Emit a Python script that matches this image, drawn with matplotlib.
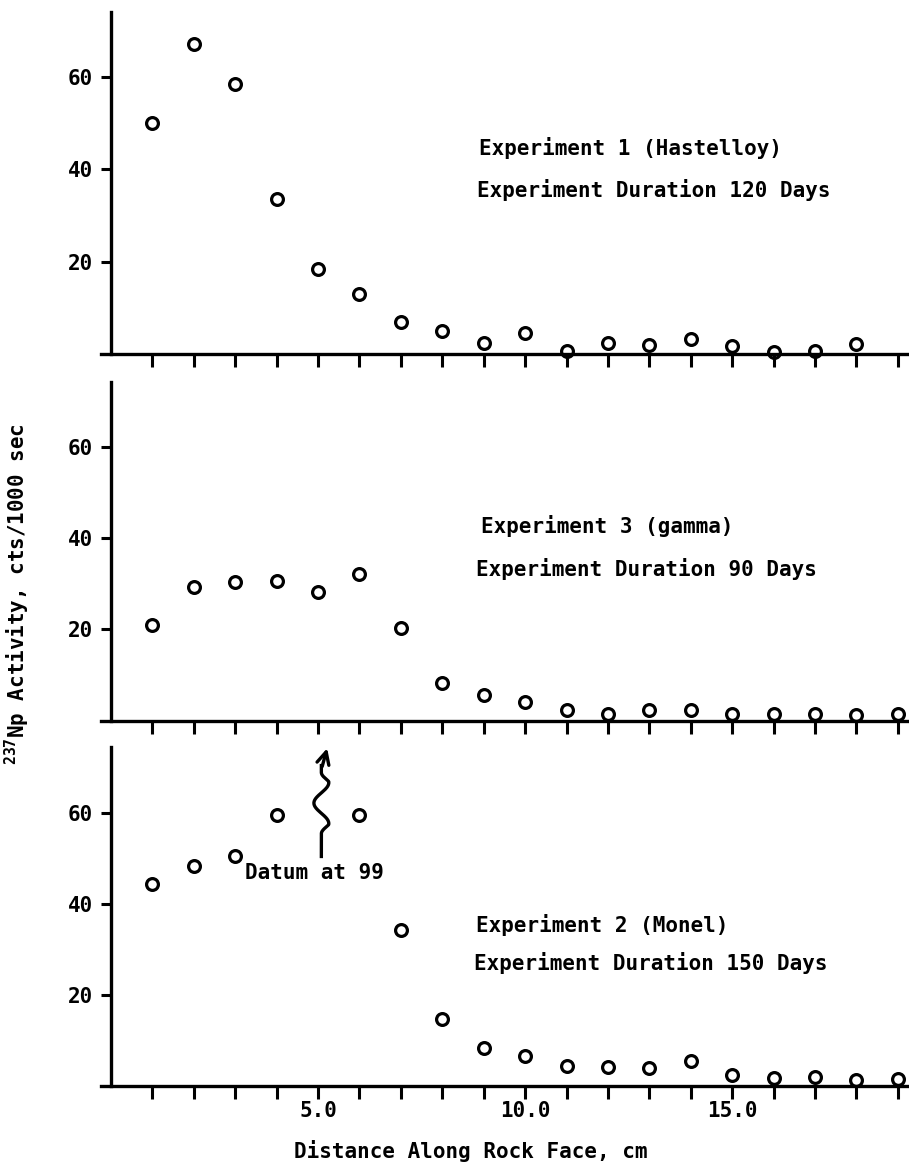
import numpy as np
import matplotlib.pyplot as plt

plt.rcParams['font.family'] = ['DejaVu Sans Mono', 'DejaVu Sans']
plt.rcParams['font.weight'] = 'bold'
plt.rcParams['mathtext.fontset'] = 'custom'
plt.rcParams['mathtext.rm'] = 'DejaVu Sans Mono:bold'
plt.rcParams['mathtext.default'] = 'rm'

# Experiment 1 (Hastelloy), 120 days
dist_exp1 = list(range(1, 19))
act_exp1 = [50, 67, 58.5, 33.5, 18.5, 13, 7, 5, 2.4, 4.7,
            0.8, 2.4, 2, 3.3, 1.8, 0.6, 0.8, 2.2]

# Experiment 3 (gamma), 90 days
dist_exp3 = list(range(1, 20))
act_exp3 = [21, 29.3, 30.3, 30.5, 28.2, 32, 20.3, 8.3, 5.5, 4,
            2.2, 1.5, 2.2, 2.2, 1.5, 1.5, 1.5, 1.2, 1.5]

# Experiment 2 (Monel), 150 days -- x=5 is off scale (datum at 99)
dist_exp2 = [1, 2, 3, 4, 6, 7, 8, 9, 10, 11, 12, 13, 14, 15, 16, 17, 18, 19]
act_exp2 = [44.5, 48.5, 50.6, 59.6, 59.6, 34.3, 14.7, 8.3, 6.5, 4.3,
            4.1, 3.9, 5.4, 2.4, 1.7, 1.9, 1.3, 1.5]

x_ticks = list(range(1, 20))
x_ticklabels = {5: '5.0', 10: '10.0', 15: '15.0'}
y_ticks = [20, 40, 60]

panels = [
    # x, y, ymax, axes rect (bottom, height), text lines
    (dist_exp1, act_exp1, 74.0, (0.6956, 0.2943),
     [(8.88, 44.6, 'Experiment 1 (Hastelloy)'),
      (8.85, 35.4, 'Experiment Duration 120 Days')]),
    (dist_exp3, act_exp3, 74.2, (0.3810, 0.2911),
     [(8.93, 42.5, 'Experiment 3 (gamma)'),
      (8.82, 33.1, 'Experiment Duration 90 Days')]),
    (dist_exp2, act_exp2, 74.65, (0.0670, 0.2915),
     [(8.82, 35.4, 'Experiment 2 (Monel)'),
      (8.77, 27.0, 'Experiment Duration 150 Days')]),
]

fig = plt.figure(figsize=(9.09, 11.64), dpi=100)
left, width = 0.1107, 0.8893

axes = []
for i, (xs, ys, ymax, (bot, h), texts) in enumerate(panels):
    ax = fig.add_axes([left, bot, width, h])
    ax.plot(xs, ys, 'o', ms=8.5, mfc='none', mec='black', mew=2.3,
            clip_on=False, zorder=3)
    ax.set_xlim(-0.25, 19.27)
    ax.set_ylim(0, ymax)
    for s in ['top', 'right']:
        ax.spines[s].set_visible(False)
    ax.spines['left'].set_position(('data', 0))
    ax.spines['left'].set_linewidth(2.4)
    ax.spines['bottom'].set_linewidth(2.4)
    ax.set_xticks(x_ticks)
    if i == 2:
        ax.set_xticklabels([x_ticklabels.get(t, '') for t in x_ticks])
    else:
        ax.set_xticklabels([])
    ax.set_yticks(y_ticks)
    ax.tick_params(axis='x', direction='out', length=9, width=2.2,
                   labelsize=15, pad=1.5)
    ax.tick_params(axis='y', direction='out', length=7, width=2.2,
                   labelsize=15, pad=6)
    for tx, ty, s in texts:
        ax.text(tx, ty, s, fontsize=15, ha='left', va='center')
    axes.append(ax)

# off-scale datum note in the bottom panel
ax = axes[2]
ax.text(3.24, 46.9, 'Datum at 99', fontsize=15, ha='left', va='center')
yy = np.linspace(50.5, 70.5, 200)
env = np.clip((yy - 55.5) / 2.0, 0, 1) * np.clip((69.0 - yy) / 2.0, 0, 1)
xx = 5.08 + 0.18 * env * np.sin((yy - 55.5) / 13.5 * 2 * np.pi * 1.5)
ax.plot(xx, yy, color='black', lw=2.4, clip_on=False, zorder=3)
ax.annotate('', xy=(5.22, 74.3), xytext=(5.1, 70.3),
            arrowprops=dict(arrowstyle='->', color='black', lw=2.4,
                            mutation_scale=22, shrinkA=0, shrinkB=0),
            annotation_clip=False)

fig.text(0.0187, 0.4893, r'$^{237}$Np Activity, cts/1000 sec',
         rotation=90, ha='center', va='center', fontsize=15)
fig.text(0.518, 0.0114, 'Distance Along Rock Face, cm',
         ha='center', va='center', fontsize=15)

fig.savefig('out.png', dpi=100)
